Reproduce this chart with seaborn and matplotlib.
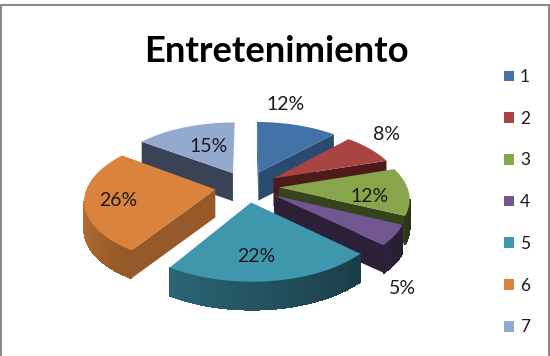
import numpy as np
import matplotlib
matplotlib.use("Agg")
import matplotlib.pyplot as plt
import seaborn as sns
from matplotlib.patches import Patch, Polygon
from matplotlib.collections import PolyCollection
from matplotlib.colors import to_rgb

# Chart data
categories = ["1", "2", "3", "4", "5", "6", "7"]
shares = [12, 8, 12, 5, 22, 26, 15]
title_text = "Entretenimiento"

# Slice colours
top_colors = ["#4372a6", "#a84441", "#87a54b", "#71568f", "#3f97ae", "#da833c", "#93a9d0"]
wall_colors = ["#2a4a70", "#4f1a1a", "#35441c", "#2c2038", "#3f97ae", "#96592a", "#3a4256"]

# Layout of the pie in figure pixels
CX, CY = 247, 186.5
SCALE_X, SCALE_Y = 128, 62
PERSPECTIVE = 0.15
EXPLODE = 0.25
DEPTH = 28
DRAW_ORDER = [6, 0, 1, 2, 5, 3, 4]
LABEL_XY = [(286, 104), (386, 135), (370, 196), (402, 289), (256, 256), (118, 201), (209, 146)]

sns.set_theme(style="white")
plt.rcParams["font.family"] = ["Lato", "DejaVu Sans"]

fig = plt.figure(figsize=(5.5, 3.56), dpi=100)
ax = fig.add_axes([0, 0, 1, 1])
ax.set_xlim(0, 550)
ax.set_ylim(356, 0)
ax.set_xticks([])
ax.set_yticks([])
sns.despine(ax=ax, left=True, bottom=True, top=True, right=True)

# Chart frame: open along the bottom
ax.plot([0.8, 0.8, 548.8, 548.8], [356, 5, 5, 356], color="#8a8a8a", lw=1.5, zorder=1,
        solid_joinstyle="miter")


def project(u, v):
    w = 1 + PERSPECTIVE * v
    return CX + SCALE_X * u / w, CY - SCALE_Y * v / w


def shaded(color, factor):
    return tuple(min(1, c * factor) for c in to_rgb(color))


edges = np.cumsum([0] + shares) / sum(shares) * 2 * np.pi

for i in DRAW_ORDER:
    start, stop = edges[i], edges[i + 1]
    mid = (start + stop) / 2
    ou, ov = EXPLODE * np.sin(mid), EXPLODE * np.cos(mid)
    theta = np.linspace(start, stop, 80)
    apex_x, apex_y = project(ou, ov)
    rim_x, rim_y = project(ou + np.sin(theta), ov + np.cos(theta))

    # flat side walls facing the viewer
    walls = []
    if rim_x[0] < apex_x:
        walls.append((rim_x[0], rim_y[0]))
    if rim_x[-1] > apex_x and stop < np.pi * 1.01:
        walls.append((rim_x[-1], rim_y[-1]))
    for ex, ey in walls:
        pts = [(apex_x, apex_y), (ex, ey), (ex, ey + DEPTH), (apex_x, apex_y + DEPTH)]
        ax.add_patch(Polygon(pts, closed=True, fc=wall_colors[i], ec="none", zorder=2))

    # curved outer wall, lit from the left
    quads, shades = [], []
    for k in range(len(theta) - 1):
        if rim_x[k + 1] < rim_x[k]:
            quads.append([(rim_x[k], rim_y[k]), (rim_x[k + 1], rim_y[k + 1]),
                          (rim_x[k + 1], rim_y[k + 1] + DEPTH), (rim_x[k], rim_y[k] + DEPTH)])
            f = 0.32 + 0.55 * np.clip((np.degrees(theta[k]) - 110) / 160, 0, 1)
            shades.append(shaded(top_colors[i], f))
    if quads:
        ax.add_collection(PolyCollection(quads, facecolors=shades, edgecolors=shades,
                                         linewidths=0.6, antialiaseds=False, zorder=2))

    # top face
    top = [(apex_x, apex_y)] + list(zip(rim_x, rim_y))
    ax.add_patch(Polygon(top, closed=True, fc=top_colors[i], ec="none", zorder=2))

for value, (x, y) in zip(shares, LABEL_XY):
    ax.text(x, y, f"{value}%", ha="center", va="center", fontsize=14, color="#1a1a1a", zorder=5)

ax.text(276.5, 51, title_text, ha="center", va="center", fontsize=26.3, fontweight="bold",
        color="black", zorder=5)

handles = [Patch(fc=c, ec="none", label=n) for c, n in zip(top_colors, categories)]
ax.legend(handles=handles, loc="upper left", bbox_to_anchor=(0.916, 0.806), frameon=False,
          fontsize=12.5, handlelength=0.58, handleheight=0.58, handletextpad=0.35,
          labelspacing=1.48, borderpad=0, borderaxespad=0, labelcolor="#1a1a1a")

fig.savefig("out.png", dpi=100)
